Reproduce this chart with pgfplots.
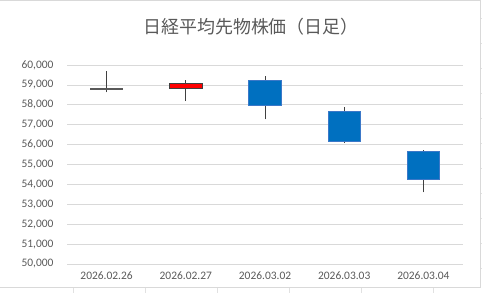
\documentclass[border=0pt]{standalone}
\usepackage{pgfplots}
\pgfplotsset{compat=1.18}
\usepackage{pgfplotstable}
\usepackage{fontspec}
\setmainfont{Carlito}
\newfontfamily\cjk{Noto Sans CJK JP}
\definecolor{txt}{HTML}{595959}
\definecolor{gridc}{HTML}{D9D9D9}
\definecolor{wick}{HTML}{404040}
\definecolor{bluebody}{HTML}{0070C0}
\definecolor{blueedge}{HTML}{3B78C8}
\definecolor{cell}{HTML}{E1E1E1}

\pgfplotstableread{
x open high low close
0 58790 59680 58630 58800
1 58810 59230 58180 59080
2 59230 59430 57270 57980
3 57670 57870 56100 56150
4 55660 55730 53600 54240
}\candles

\begin{document}
\begin{tikzpicture}[x=1bp,y=1bp]
\useasboundingbox (0,0) rectangle (482,293);
% spreadsheet cell lines outside the chart
\foreach \cx in {73,145,217,289,361,433} {\draw[cell, line width=0.75bp] (\cx,0) -- (\cx,6);}
\foreach \k in {0,...,10} {\draw[cell, line width=0.75bp] (481,{275-25*\k}) -- (482,{275-25*\k});}
% chart frame
\draw[gridc, line width=0.75bp] (-2,6) -- (480.5,6) -- (480.5,292.3) -- (-2,292.3);
\node[font=\cjk\fontsize{18}{20}\selectfont, text=txt] at (251,266) {日経平均先物株価（日足）};
\begin{axis}[
  at={(67bp,29bp)}, anchor=south west,
  scale only axis, width=396bp, height=199bp,
  xmin=-0.5, xmax=4.5, ymin=50000, ymax=60000,
  axis x line*=bottom, axis y line*=left,
  axis line style={draw=none},
  xtick={0,1,2,3,4},
  xticklabels={2026.02.26,2026.02.27,2026.03.02,2026.03.03,2026.03.04},
  ytick={50000,51000,...,60000},
  major tick length=0pt,
  ymajorgrids, grid style={gridc, line width=0.75bp},
  tick label style={font=\fontsize{11.5}{13}\selectfont, text=txt},
  yticklabel style={xshift=-10bp},
  xticklabel style={yshift=-4bp},
  scaled y ticks=false,
  /pgf/number format/.cd, fixed, 1000 sep={,}, assume math mode=true,
]
% wicks
\addplot[draw=none, no markers, forget plot,
  error bars/.cd, y dir=plus, y explicit, error mark=none,
  error bar style={draw=wick, line width=1bp, solid}]
  table[x=x, y=low, y error plus expr={\thisrow{high}-\thisrow{low}}] {\candles};
% bodies
\addplot[draw=txt, line width=1.75bp, forget plot] coordinates {(-0.205,58795) (0.205,58795)};
\addplot[fill=red, draw=wick, line width=0.75bp, forget plot] coordinates {(0.795,58810) (1.205,58810) (1.205,59080) (0.795,59080)} -- cycle;
\addplot[fill=bluebody, draw=blueedge, line width=0.75bp, forget plot] coordinates {(1.795,59230) (2.205,59230) (2.205,57980) (1.795,57980)} -- cycle;
\addplot[fill=bluebody, draw=blueedge, line width=0.75bp, forget plot] coordinates {(2.795,57670) (3.205,57670) (3.205,56150) (2.795,56150)} -- cycle;
\addplot[fill=bluebody, draw=blueedge, line width=0.75bp, forget plot] coordinates {(3.795,55660) (4.205,55660) (4.205,54240) (3.795,54240)} -- cycle;
\end{axis}
\end{tikzpicture}
\end{document}
